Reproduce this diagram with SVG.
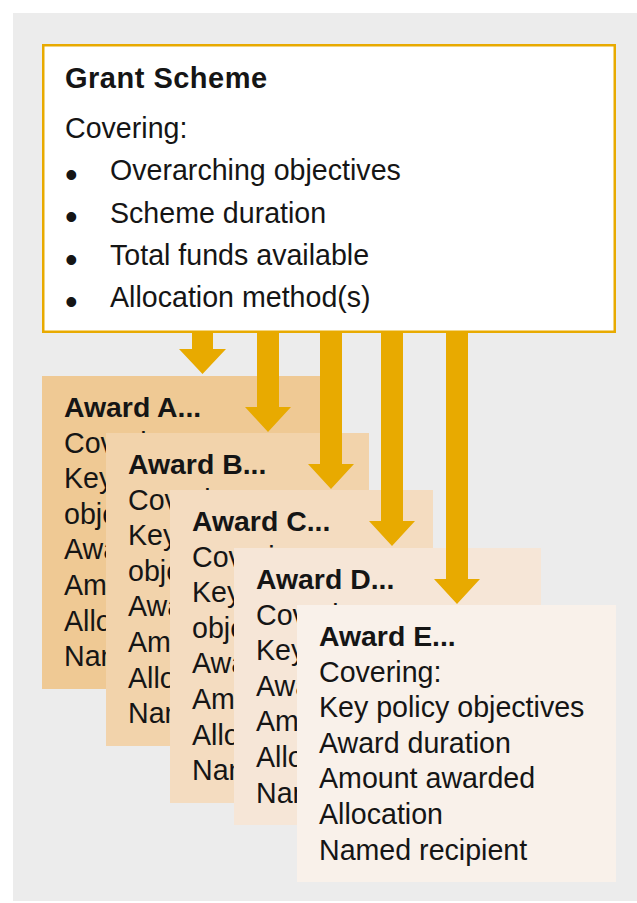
<svg xmlns="http://www.w3.org/2000/svg" width="637" height="903" viewBox="0 0 637 903">
<style>
text{font-family:"Liberation Sans",Arial,Helvetica,sans-serif;fill:#151515;font-size:28.6px}
.h{font-weight:bold;font-size:28.4px}
.gs{font-weight:bold;font-size:29px;letter-spacing:0.5px}
.bul{font-size:36px}
.arrow{fill:#e8aa00}
</style>
<rect x="13" y="13" width="624" height="888" fill="#ececec"/>
<g id="awardA">
<rect x="42" y="376" width="288" height="313" fill="#efc994"/>
<text x="64" y="417" class="h">Award A...</text>
<text x="64" y="452.6">Covering:</text>
<text x="64" y="488.2">Key policy</text>
<text x="64" y="523.8">objectives</text>
<text x="64" y="559.4">Award duration</text>
<text x="64" y="595">Amount awarded</text>
<text x="64" y="630.6">Allocation</text>
<text x="64" y="666.2">Named recipient</text>
</g>
<g id="awardB">
<rect x="106" y="433" width="263" height="313" fill="#f2d3ab"/>
<text x="128" y="474" class="h">Award B...</text>
<text x="128" y="509.6">Covering:</text>
<text x="128" y="545.2">Key policy</text>
<text x="128" y="580.8">objectives</text>
<text x="128" y="616.4">Award duration</text>
<text x="128" y="652">Amount awarded</text>
<text x="128" y="687.6">Allocation</text>
<text x="128" y="723.2">Named recipient</text>
</g>
<g id="awardC">
<rect x="170" y="490" width="263" height="313" fill="#f4dcc0"/>
<text x="192" y="531" class="h">Award C...</text>
<text x="192" y="566.6">Covering:</text>
<text x="192" y="602.2">Key policy</text>
<text x="192" y="637.8">objectives</text>
<text x="192" y="673.4">Award duration</text>
<text x="192" y="709">Amount awarded</text>
<text x="192" y="744.6">Allocation</text>
<text x="192" y="780.2">Named recipient</text>
</g>
<g id="awardD">
<rect x="234" y="548" width="307" height="277" fill="#f6e6d7"/>
<text x="256" y="589" class="h">Award D...</text>
<text x="256" y="624.6">Covering:</text>
<text x="256" y="660.2">Key policy objectives</text>
<text x="256" y="695.8">Award duration</text>
<text x="256" y="731.4">Amount awarded</text>
<text x="256" y="767">Allocation</text>
<text x="256" y="802.6">Named recipient</text>
</g>
<g id="awardE">
<rect x="297" y="605" width="319" height="277" fill="#f9f1ea"/>
<text x="319" y="646" class="h">Award E...</text>
<text x="319" y="681.6">Covering:</text>
<text x="319" y="717.2">Key policy objectives</text>
<text x="319" y="752.8">Award duration</text>
<text x="319" y="788.4">Amount awarded</text>
<text x="319" y="824">Allocation</text>
<text x="319" y="859.6">Named recipient</text>
</g>
<g id="connectors">
<polygon class="arrow" points="192,330 213,330 213,349 226,349 202.5,374 179,349 192,349"/>
<polygon class="arrow" points="257,330 279,330 279,407 291,407 268,432 245,407 257,407"/>
<polygon class="arrow" points="320,330 342,330 342,464 354,464 331,489 308,464 320,464"/>
<polygon class="arrow" points="381,330 403,330 403,521 415,521 392,546 369,521 381,521"/>
<polygon class="arrow" points="446,330 468,330 468,579 480,579 457,604 434,579 446,579"/>
</g>
<g id="grantScheme">
<rect x="43.25" y="45.25" width="571.5" height="286.5" fill="#ffffff" stroke="#e8aa00" stroke-width="2.5"/>
<text x="65" y="88" class="gs">Grant Scheme</text>
<text x="65" y="138">Covering:</text>
<text x="65" y="186.5" class="bul">•</text>
<text x="110" y="180">Overarching objectives</text>
<text x="65" y="229" class="bul">•</text>
<text x="110" y="222.5">Scheme duration</text>
<text x="65" y="271.5" class="bul">•</text>
<text x="110" y="265">Total funds available</text>
<text x="65" y="313.5" class="bul">•</text>
<text x="110" y="307">Allocation method(s)</text>
</g>
</svg>
